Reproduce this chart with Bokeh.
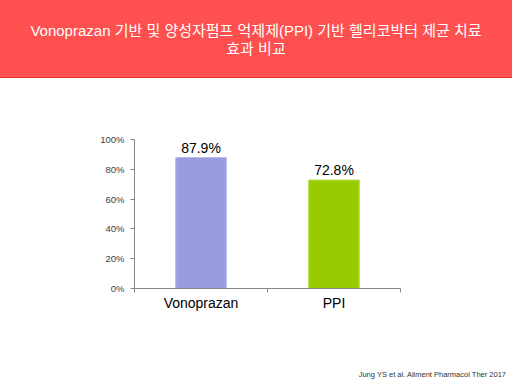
from bokeh.plotting import figure
from bokeh.models import (Range1d, LinearAxis, FixedTicker, CustomJSTickFormatter,
                          PrintfTickFormatter, ColumnDataSource, Div, LabelSet)
from bokeh.layouts import column
from bokeh.embed import file_html
from bokeh.resources import INLINE
from bokeh.core.properties import value

# ---- data ----
title_line1 = "Vonoprazan 기반 및 양성자펌프 억제제(PPI) 기반 헬리코박터 제균 치료"
title_line2 = "효과 비교"
categories = ["Vonoprazan", "PPI"]
rates = [87.9, 72.8]
rate_labels = ["87.9%", "72.8%"]
bar_colors = ["#9B9BDF", "#99CC00"]
bar_outlines = ["#B6B6EA", "#B5DC4A"]
y_ticks = [0, 20, 40, 60, 80, 100]
footnote = "Jung YS et al. Aliment Pharmacol Ther 2017"

FONT = "'Liberation Sans', Arial, 'Noto Sans CJK KR', sans-serif"
W = 512

n = len(categories)
centres = [i + 0.5 for i in range(n)]   # category slot centres on a 0..n axis

src = ColumnDataSource(dict(x=centres, cat=categories, rate=rates, label=rate_labels,
                            color=bar_colors, outline=bar_outlines))

header = Div(
    text=(f'<div style="width:{W}px;height:78px;background:#FF5050;border-bottom:1px solid #E53030;'
          f'color:#ffffff;font-family:{FONT};font-size:15px;line-height:18px;text-align:center;'
          f'padding-top:22px;box-sizing:border-box;white-space:nowrap;">'
          f'{title_line1}<br>{title_line2}</div>'),
    width=W, height=78, margin=(0, 0, 0, 0))

p = figure(width=W, height=284,
           x_range=Range1d(0, n),
           y_range=Range1d(0, 100),
           x_axis_location=None,
           output_backend="svg", toolbar_location=None,
           min_border_left=134, min_border_right=112,
           min_border_top=61, min_border_bottom=74,
           margin=(0, 0, 0, 0))
p.outline_line_color = None
p.background_fill_color = "white"
p.border_fill_color = "white"

p.vbar(x="x", top="rate", width=0.38, source=src,
       fill_color="color", line_color="outline", line_width=1)

labels = LabelSet(x="x", y="rate", text="label", source=src,
                  text_align="center", text_baseline="alphabetic", y_offset=5,
                  text_font=value("Liberation Sans"), text_font_size="14px",
                  text_color="#000000")
p.add_layout(labels)

# y axis
ya = p.yaxis[0]
ya.ticker = FixedTicker(ticks=y_ticks)
ya.formatter = PrintfTickFormatter(format="%d%%")
ya.major_tick_out = 4
ya.major_tick_in = 0
ya.minor_tick_out = 0
ya.minor_tick_in = 0
ya.axis_line_color = "#868686"
ya.major_tick_line_color = "#868686"
ya.major_label_text_font = "Liberation Sans"
ya.major_label_text_font_size = "9.5px"
ya.major_label_text_color = "#404040"
ya.major_label_standoff = 6

# x axis: labels at category centres, small ticks at category edges
xa = LinearAxis(
    ticker=FixedTicker(ticks=centres, minor_ticks=list(range(n + 1))),
    formatter=CustomJSTickFormatter(args=dict(labels=categories),
                                    code="return labels[Math.floor(tick)] || '';"),
)
xa.major_tick_out = 0
xa.major_tick_in = 0
xa.minor_tick_out = 4
xa.minor_tick_in = 0
xa.axis_line_color = "#868686"
xa.minor_tick_line_color = "#868686"
xa.major_label_text_font = "Liberation Sans"
xa.major_label_text_font_size = "14px"
xa.major_label_text_color = "#000000"
xa.major_label_standoff = 2
p.add_layout(xa, "below")

p.grid.visible = False

foot = Div(
    text=(f'<div style="width:{W}px;text-align:right;font-family:{FONT};font-size:7.5px;'
          f'color:#333333;padding-top:9px;padding-right:6px;line-height:8px;'
          f'box-sizing:border-box;white-space:nowrap;">{footnote}</div>'),
    width=W, height=22, margin=(0, 0, 0, 0))

layout = column(header, p, foot, spacing=0)

open("out.html", "w").write(file_html(layout, INLINE))
